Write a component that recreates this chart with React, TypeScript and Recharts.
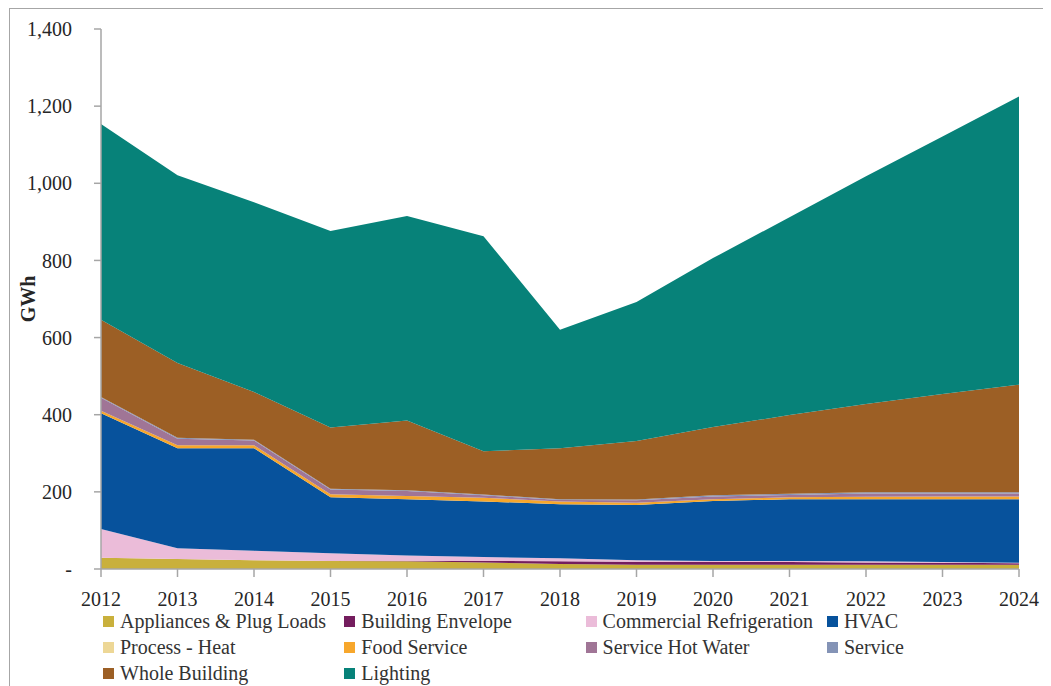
import React from 'react';
import { AreaChart, Area, XAxis, YAxis, Label } from 'recharts';

const years = ['2012', '2013', '2014', '2015', '2016', '2017', '2018', '2019', '2020', '2021', '2022', '2023', '2024'];

const appliancesPlugLoads = [29, 26, 23, 21, 20, 17, 13, 11, 11, 11, 11, 11, 11];
const buildingEnvelope = [0, 0, 0, 0, 0.5, 4, 7, 8, 8, 7, 6, 5, 4];
const commercialRefrigeration = [75, 28, 24, 20, 14.5, 10, 8, 4, 2, 3, 3, 2, 1];
const hvac = [300, 259, 266, 145, 146, 144, 140, 143, 155, 160, 161, 163, 165];
const processHeat = [0, 0, 0, 0, 0, 0, 0, 0, 0, 0, 0, 0, 0];
const foodService = [6, 8, 8, 8, 8, 10, 7, 6, 5, 5, 6, 7, 7];
const serviceHotWater = [34, 17, 12, 12, 13, 6, 4, 6, 7, 6, 9, 8, 8];
const service = [2, 2, 2, 2, 2, 2, 2, 2, 3, 3, 3, 3, 3];
const wholeBuilding = [200, 194, 124, 159, 181, 112, 132, 152, 177, 204, 229, 255, 279];
const lighting = [508, 487, 492, 509, 530, 558, 307, 360, 438, 513, 590, 667, 747];

const yTicks = [0, 200, 400, 600, 800, 1000, 1200, 1400];

const series = [
  { key: 'appliances', name: 'Appliances & Plug Loads', color: '#C9B03C', values: appliancesPlugLoads },
  { key: 'envelope', name: 'Building Envelope', color: '#741D5E', values: buildingEnvelope },
  { key: 'refrigeration', name: 'Commercial Refrigeration', color: '#EBBCD9', values: commercialRefrigeration },
  { key: 'hvac', name: 'HVAC', color: '#07529C', values: hvac },
  { key: 'processHeat', name: 'Process - Heat', color: '#EDD796', values: processHeat },
  { key: 'foodService', name: 'Food Service', color: '#F7A72C', values: foodService },
  { key: 'shw', name: 'Service Hot Water', color: '#A07596', values: serviceHotWater },
  { key: 'service', name: 'Service', color: '#8493B6', values: service },
  { key: 'wholeBuilding', name: 'Whole Building', color: '#9C5F25', values: wholeBuilding },
  { key: 'lighting', name: 'Lighting', color: '#078279', values: lighting },
];

const data = years.map((year, i) => {
  const row: Record<string, string | number> = { year };
  series.forEach((s) => {
    row[s.key] = s.values[i];
  });
  return row;
});

const FONT = '"Liberation Serif", serif';
const AXIS_COLOR = '#A6A6A6';
const TEXT_COLOR = '#262626';

const fmtY = (v: number) => (v === 0 ? '-' : v.toLocaleString('en-US'));

export default function App() {
  return (
    <div
      style={{
        position: 'relative',
        marginLeft: 1,
        width: 1036,
        height: 700,
        border: `1px solid ${AXIS_COLOR}`,
        fontFamily: FONT,
        overflow: 'hidden',
      }}
    >
      <AreaChart
        width={1036}
        height={676}
        data={data}
        margin={{ top: 20, right: 27, bottom: 86, left: 0 }}
      >
        <XAxis
          dataKey="year"
          height={30}
          interval={0}
          tickSize={8}
          tickMargin={15}
          axisLine={{ stroke: AXIS_COLOR, strokeWidth: 1.5 }}
          tickLine={{ stroke: AXIS_COLOR, strokeWidth: 1.5 }}
          tick={{ fill: TEXT_COLOR, fontSize: 20, fontFamily: FONT }}
        />
        <YAxis
          width={91}
          domain={[0, 1400]}
          ticks={yTicks}
          interval={0}
          tickSize={7}
          tickMargin={22}
          tickFormatter={fmtY}
          axisLine={{ stroke: AXIS_COLOR, strokeWidth: 1.5 }}
          tickLine={{ stroke: AXIS_COLOR, strokeWidth: 1.5 }}
          tick={{ fill: TEXT_COLOR, fontSize: 20, fontFamily: FONT }}
        >
          <Label
            content={(props: any) => {
              const vb = props.viewBox || { y: 20, height: 540 };
              const cy = vb.y + vb.height / 2;
              const cx = 18;
              return (
                <text
                  x={cx}
                  y={cy}
                  transform={`rotate(-90 ${cx} ${cy})`}
                  textAnchor="middle"
                  dominantBaseline="central"
                  fontFamily={FONT}
                  fontSize={20}
                  fontWeight="bold"
                  fill={TEXT_COLOR}
                >
                  GWh
                </text>
              );
            }}
          />
        </YAxis>
        {series.map((s) => (
          <Area
            key={s.key}
            dataKey={s.key}
            name={s.name}
            stackId="1"
            type="linear"
            stroke="none"
            fill={s.color}
            fillOpacity={1}
            isAnimationActive={false}
            dot={false}
            activeDot={false}
          />
        ))}
      </AreaChart>
      <div
        style={{
          position: 'absolute',
          left: 93,
          top: 600,
          display: 'grid',
          gridTemplateColumns: 'repeat(4, 241.3px)',
          gridAutoRows: '25.7px',
        }}
      >
        {series.map((s) => (
          <div key={s.key} style={{ display: 'flex', alignItems: 'center', whiteSpace: 'nowrap' }}>
            <span
              style={{
                display: 'inline-block',
                width: 11,
                height: 11,
                background: s.color,
                marginRight: 6,
                flex: 'none',
              }}
            />
            <span style={{ fontSize: 20, color: '#333333', lineHeight: '25px' }}>{s.name}</span>
          </div>
        ))}
      </div>
    </div>
  );
}
